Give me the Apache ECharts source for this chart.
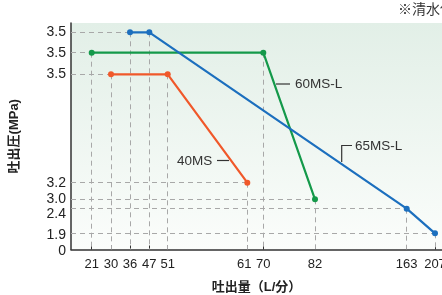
<!DOCTYPE html>
<html>
<head>
<meta charset="utf-8" />
<script src="https://cdn.jsdelivr.net/npm/echarts@6/dist/echarts.min.js"></script>
<style>
  html, body { margin: 0; padding: 0; background: #ffffff; }
  #chart { width: 442px; height: 295px; }
</style>
</head>
<body>
<div id="chart"></div>
<script>
// 吐出量の目盛 (L/分) と、模式図の軸上での目盛の位置
const flowLabels = [21, 30, 36, 47, 51, 61, 70, 82, 163, 207]
const flowTickAt = [20.7, 40, 59, 78.3, 96.7, 176.3, 192.3, 244, 335.7, 364]

// 吐出圧の目盛 (MPa)  3.5 は機種ごとに別の段に描かれている
const pressLabels = ['0', '1.9', '2.4', '3.0', '3.2', '3.5', '3.5', '3.5']
const pressTickAt = [0, 16.2, 40.8, 50.2, 66.8, 175.2, 196.8, 217.2]

const flow65 = [36, 47, 163, 207]
const press65 = [3.5, 3.5, 2.4, 1.9]
const flow60 = [21, 70, 82]
const press60 = [3.5, 3.5, 3.0]
const flow40 = [30, 51, 61]
const press40 = [3.5, 3.5, 3.2]
// 3.5 がどの段か (pressLabels の番号)
const ratedRow = { '65MS-L': 7, '60MS-L': 6, '40MS': 5 }

const font = "'Liberation Sans', 'Noto Sans CJK JP', sans-serif"

const toX = (f) => flowTickAt[flowLabels.indexOf(f)]
const toY = (p, name) =>
  p === 3.5 ? pressTickAt[ratedRow[name]] : pressTickAt[pressLabels.indexOf(p.toFixed(1))]

const nearest = (list, v) => {
  let best = 0
  list.forEach((t, i) => {
    if (Math.abs(t - v) < Math.abs(list[best] - v)) best = i
  })
  return best
}

const makeSeries = (name, flows, presses, color) => {
  const data = flows.map((f, i) => [toX(f), toY(presses[i], name)])
  const guides = []
  data.forEach(([x, y]) => {
    guides.push([{ coord: [0, y] }, { coord: [x, y] }])
    guides.push([{ coord: [x, y] }, { coord: [x, 0] }])
  })
  return {
    name: name,
    type: 'line',
    data: data,
    symbol: 'circle',
    symbolSize: 6,
    z: 3,
    lineStyle: { color: color, width: 2.2 },
    itemStyle: { color: color },
    emphasis: { disabled: true },
    markLine: {
      silent: true,
      z: 1,
      symbol: ['none', 'none'],
      label: { show: false },
      lineStyle: { color: '#a8a8a8', width: 1, type: [5, 4] },
      emphasis: { disabled: true },
      animation: false,
      data: guides,
    },
  }
}

const chart = echarts.init(document.getElementById('chart'))
chart.setOption({
  animation: false,
  textStyle: { fontFamily: font },
  grid: {
    left: 71,
    top: 23,
    width: 371,
    height: 226.5,
    outerBoundsMode: 'none',
    containLabel: false,
    show: true,
    borderWidth: 0,
    backgroundColor: {
      type: 'linear',
      x: 0, y: 0, x2: 0, y2: 1,
      colorStops: [
        { offset: 0, color: '#e2efe7' },
        { offset: 1, color: '#fbfdfb' },
      ],
    },
  },
  xAxis: {
    type: 'value',
    min: 0,
    max: 371,
    name: '吐出量（L/分）',
    nameLocation: 'middle',
    nameGap: 31,
    nameTextStyle: { fontFamily: font, fontWeight: 'bold', fontSize: 13, color: '#222' },
    axisLine: { show: true, lineStyle: { color: '#333', width: 1.5 } },
    axisTick: { show: true, inside: true, length: 4, customValues: flowTickAt, lineStyle: { color: '#333' } },
    axisLabel: {
      customValues: flowTickAt,
      formatter: (v) => {
        const s = String(flowLabels[nearest(flowTickAt, v)])
        return s === '61' ? '{l|' + s + '}' : s
      },
      color: '#222',
      fontSize: 13,
      margin: 8,
      rich: {
        l: { fontSize: 13, color: '#222', padding: [0, 6, 0, 0] },
      },
    },
    splitLine: { show: false },
  },
  yAxis: {
    type: 'value',
    min: 0,
    max: 226.5,
    name: '吐出圧(MPa)',
    nameLocation: 'middle',
    nameRotate: 90,
    nameGap: 50,
    nameTextStyle: { fontFamily: font, fontWeight: 'bold', fontSize: 13, color: '#222' },
    axisLine: { show: true, lineStyle: { color: '#333', width: 1.5 } },
    axisTick: { show: false },
    axisLabel: {
      customValues: pressTickAt,
      formatter: (v) => {
        const s = pressLabels[nearest(pressTickAt, v)]
        if (s === '2.4') return '{lo|' + s + '}'
        if (s === '1.9' || s === '0') return '{lo2|' + s + '}'
        return s
      },
      color: '#222',
      fontSize: 14,
      margin: 5,
      rich: {
        lo: { fontSize: 14, color: '#222', padding: [10, 0, 0, 0] },
        lo2: { fontSize: 14, color: '#222', padding: [4, 0, 0, 0] },
      },
    },
    splitLine: { show: false },
  },
  series: [
    makeSeries('60MS-L', flow60, press60, '#14994a'),
    makeSeries('40MS', flow40, press40, '#f0582a'),
    makeSeries('65MS-L', flow65, press65, '#1c6fbe'),
  ],
  graphic: [
    { type: 'line', shape: { x1: 276, y1: 84, x2: 290, y2: 84 }, style: { stroke: '#333', lineWidth: 1.2 } },
    { type: 'text', x: 295, y: 84, style: { text: '60MS-L', font: '13.5px ' + font, fill: '#333', verticalAlign: 'middle' } },
    { type: 'line', shape: { x1: 217, y1: 160.5, x2: 229, y2: 160.5 }, style: { stroke: '#333', lineWidth: 1.2 } },
    { type: 'text', x: 177, y: 161, style: { text: '40MS', font: '13.5px ' + font, fill: '#333', verticalAlign: 'middle' } },
    { type: 'polyline', shape: { points: [[341.7, 162], [341.7, 145.5], [352, 145.5]] }, style: { stroke: '#333', lineWidth: 1.2, fill: null } },
    { type: 'text', x: 355, y: 146, style: { text: '65MS-L', font: '13.5px ' + font, fill: '#333', verticalAlign: 'middle' } },
    { type: 'text', x: 398, y: 10, style: { text: '※清水使用時', font: '14px ' + font, fill: '#333', verticalAlign: 'middle' } },
  ],
})
</script>
</body>
</html>
